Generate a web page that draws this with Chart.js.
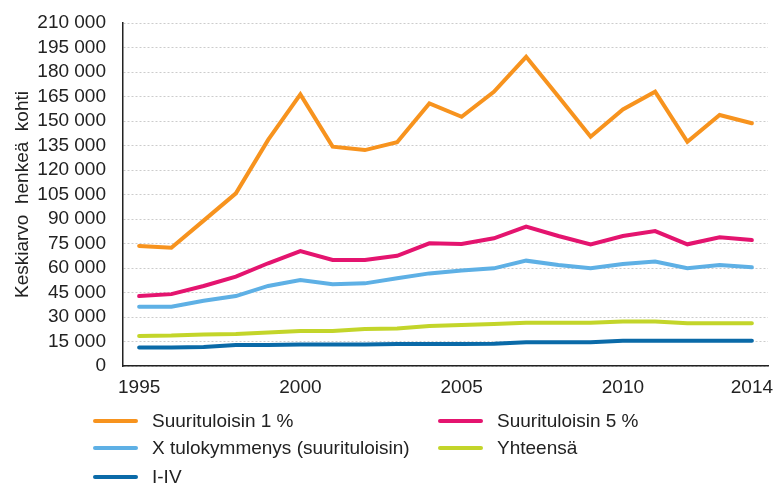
<!DOCTYPE html>
<html>
<head>
<meta charset="utf-8">
<script src="https://cdn.jsdelivr.net/npm/chart.js@4/dist/chart.umd.min.js"></script>
<style>
  html, body { margin: 0; padding: 0; background: #fff; }
  #wrap { position: relative; width: 778px; height: 483px; }
  #legend { position: absolute; left: 0; top: 0; width: 778px; height: 483px; pointer-events: none;
            font-family: "Liberation Sans", Arial, sans-serif; font-size: 19px; color: #222; }
  .item { position: absolute; height: 24px; line-height: 24px; white-space: nowrap; }
  .item .swatch { position: absolute; left: 0; top: 10px; width: 45px; height: 4px; border-radius: 2px; }
  .item .txt { position: absolute; left: 59px; top: 0; }
</style>
</head>
<body>
<div id="wrap">
  <canvas id="chart" width="778" height="483"></canvas>
  <div id="legend"></div>
</div>
<script>
// ----------------------------
// DATA
// ----------------------------
const years = ['1995','1996','1997','1998','1999','2000','2001','2002','2003','2004',
               '2005','2006','2007','2008','2009','2010','2011','2012','2013','2014'];
const shownYears = ['1995', '2000', '2005', '2010', '2014'];

const top1 = [73500, 72400, 89000, 105700, 138400, 166300, 134300, 132200, 137000, 160800,
              152600, 167900, 189300, 165000, 140400, 157100, 167900, 137300, 153700, 148600];
const top5 = [42800, 44000, 49000, 54700, 62900, 70400, 64900, 64900, 67500, 75100,
              74700, 78200, 85300, 79600, 74500, 79600, 82600, 74500, 78800, 77100];
const decile10 = [36300, 36300, 40000, 42800, 49000, 52600, 50000, 50600, 53700, 56700,
                  58400, 59800, 64500, 61800, 59800, 62400, 63900, 59800, 61800, 60400];
const total = [18400, 18600, 19300, 19600, 20500, 21400, 21500, 22600, 23000, 24500,
               25100, 25700, 26500, 26500, 26500, 27300, 27300, 26100, 26100, 26100];
const deciles1to4 = [11400, 11400, 11600, 12800, 12900, 13200, 13200, 13200, 13500, 13500,
                     13500, 13600, 14500, 14500, 14500, 15500, 15500, 15500, 15500, 15500];

const seriesNames = ['Suurituloisin 1 %', 'Suurituloisin 5 %', 'X tulokymmenys (suurituloisin)', 'Yhteensä', 'I-IV'];
const seriesColors = ['#f7931e', '#e4146f', '#5eb0e5', '#c3d52a', '#0a6aa8'];

const yMax = 210000;
const yStep = 15000;
const yTitle = 'Keskiarvo  henkeä  kohti';

const FONT = '"Liberation Sans", Arial, sans-serif';

function fmt(v) {
  return String(v).replace(/\B(?=(\d{3})+(?!\d))/g, ' ');
}

const values = [top1, top5, decile10, total, deciles1to4];

// ----------------------------
// CHART
// ----------------------------
const chart = new Chart(document.getElementById('chart'), {
  type: 'line',
  data: {
    labels: years,
    datasets: values.map((v, i) => ({
      label: seriesNames[i],
      data: v,
      borderColor: seriesColors[i],
      backgroundColor: seriesColors[i],
      borderWidth: 4,
      pointRadius: 0,
      tension: 0,
      borderCapStyle: 'round'
    }))
  },
  options: {
    responsive: false,
    animation: false,
    layout: { padding: { left: 0, right: 10, top: 23, bottom: 83 } },
    plugins: { legend: { display: false }, tooltip: { enabled: false } },
    scales: {
      x: {
        offset: true,
        // fixed axis height, labels may overhang the plot edges
        afterFit: s => { s.height = 34; s.paddingLeft = 0; s.paddingRight = 0; },
        grid: { display: false, drawTicks: false },
        border: { display: true, color: '#222', width: 1.5 },
        ticks: {
          autoSkip: false,
          maxRotation: 0,
          padding: 10,
          color: '#222',
          font: { family: FONT, size: 19 },
          callback: function (val) {
            const l = this.getLabelForValue(val);
            return shownYears.includes(l) ? l : '';
          }
        }
      },
      y: {
        min: 0,
        max: yMax,
        afterFit: s => { s.width = 123; s.paddingTop = 0; s.paddingBottom = 0; },
        grid: { color: '#cccccc', lineWidth: 1, drawTicks: false },
        border: { display: true, color: '#222', width: 1.5, dash: [2, 2] },
        ticks: {
          autoSkip: false,
          stepSize: yStep,
          padding: 17,
          color: '#222',
          font: { family: FONT, size: 19 },
          callback: v => fmt(v)
        },
        title: {
          display: true,
          text: yTitle,
          color: '#222',
          font: { family: FONT, size: 19 },
          padding: { top: 11, bottom: 0 }
        }
      }
    }
  }
});

// ----------------------------
// LEGEND (html, two columns)
// ----------------------------
const legend = document.getElementById('legend');
const colX = [93, 438];
const rowY = [409, 436, 465];
chart.data.datasets.forEach((ds, i) => {
  const el = document.createElement('div');
  el.className = 'item';
  el.style.left = colX[i % 2] + 'px';
  el.style.top = rowY[Math.floor(i / 2)] + 'px';
  el.innerHTML = '<span class="swatch" style="background:' + ds.borderColor + '"></span>' +
                 '<span class="txt">' + ds.label + '</span>';
  legend.appendChild(el);
});
</script>
</body>
</html>
